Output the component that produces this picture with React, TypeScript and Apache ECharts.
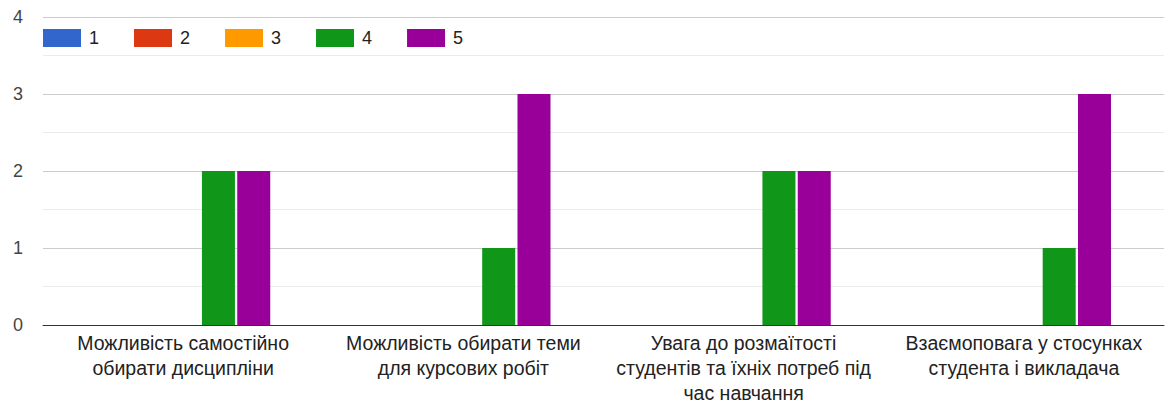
import React, { useEffect, useRef } from "react";
import * as echarts from "echarts";

const categories = [
  "Можливість самостійно\nобирати дисципліни",
  "Можливість обирати теми\nдля курсових робіт",
  "Увага до розмаїтості\nстудентів та їхніх потреб під\nчас навчання",
  "Взаємоповага у стосунках\nстудента і викладача",
];
const seriesNames = ["1", "2", "3", "4", "5"];
const values1 = [0, 0, 0, 0];
const values2 = [0, 0, 0, 0];
const values3 = [0, 0, 0, 0];
const values4 = [2, 1, 2, 1];
const values5 = [2, 3, 2, 3];
const colors = ["#3366cc", "#dc3912", "#ff9900", "#109618", "#990099"];
const yTicks = [0, 1, 2, 3, 4];

const FONT = "Arial, 'Liberation Sans', sans-serif";

export default function App() {
  const ref = useRef<HTMLDivElement>(null);
  useEffect(() => {
    if (!ref.current) return;
    const chart = echarts.init(ref.current, undefined, { renderer: "svg" });
    const all = [values1, values2, values3, values4, values5];
    chart.setOption({
      animation: false,
      color: colors,
      textStyle: { fontFamily: FONT },
      legend: {
        left: 43,
        top: 29,
        padding: 0,
        itemWidth: 38,
        itemHeight: 18,
        itemGap: 35,
        icon: "rect",
        data: seriesNames,
        textStyle: { fontSize: 18, color: "#222", fontFamily: FONT, padding: [0, 0, 0, 3] },
      },
      grid: { left: 43, right: 2, top: 17, bottom: 79, containLabel: false },
      xAxis: {
        type: "category",
        data: categories,
        axisLine: { lineStyle: { color: "#333", width: 1 } },
        axisTick: { show: false },
        axisLabel: {
          fontSize: 19.5,
          color: "#222",
          lineHeight: 25,
          margin: 5,
          interval: 0,
          align: "center",
          fontFamily: FONT,
        },
      },
      yAxis: {
        type: "value",
        min: yTicks[0],
        max: yTicks[yTicks.length - 1],
        interval: 1,
        axisLine: { show: false },
        axisTick: { show: false },
        axisLabel: { fontSize: 18, color: "#444", margin: 20, fontFamily: FONT },
        splitLine: { lineStyle: { color: "#cccccc", width: 1 } },
        minorTick: { show: false, splitNumber: 2 },
        minorSplitLine: { show: true, lineStyle: { color: "#ebebeb", width: 1 } },
      },
      series: seriesNames.map((name, i) => ({
        name,
        type: "bar",
        data: all[i],
        barWidth: 33,
        barGap: "7%",
        itemStyle: { color: colors[i] },
      })),
    });
    return () => chart.dispose();
  }, []);
  return (
    <div
      ref={ref}
      style={{ position: "fixed", left: 0, top: 0, width: 1166, height: 405, background: "#fff" }}
    />
  );
}
